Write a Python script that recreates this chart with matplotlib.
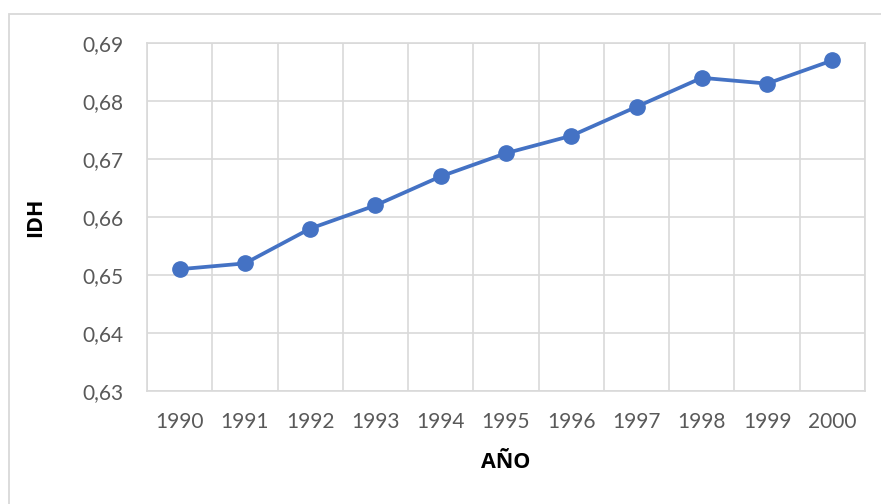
import matplotlib
matplotlib.use("Agg")
import matplotlib.pyplot as plt
from matplotlib.patches import Rectangle
from matplotlib.ticker import FixedLocator

years = ["1990", "1991", "1992", "1993", "1994", "1995", "1996", "1997", "1998", "1999", "2000"]
idh = [0.651, 0.652, 0.658, 0.662, 0.667, 0.671, 0.674, 0.679, 0.684, 0.683, 0.687]
yticks = [0.63, 0.64, 0.65, 0.66, 0.67, 0.68, 0.69]
ytick_labels = ["0,63", "0,64", "0,65", "0,66", "0,67", "0,68", "0,69"]

plt.rcParams['font.family'] = ['Lato', 'DejaVu Sans']
W, H = 881, 504
fig = plt.figure(figsize=(W / 100, H / 100), dpi=100)
fig.patches.append(Rectangle((9 / W, -0.1), 1.2, 1 - 14 / H + 0.1, transform=fig.transFigure,
                             fill=False, edgecolor="#D9D9D9", linewidth=1.3))

ax = fig.add_axes([147 / W, 1 - 391 / H, (865 - 147) / W, (391 - 43) / H])
x = list(range(len(years)))
ax.plot(x, idh, color="#4472C4", linewidth=2.7, marker="o", markersize=11, zorder=3)

ax.set_xlim(-0.5, len(years) - 0.5)
ax.set_ylim(0.63, 0.69)
ax.set_xticks(x)
ax.set_xticklabels(years)
ax.set_yticks(yticks)
ax.set_yticklabels(ytick_labels)
ax.xaxis.set_minor_locator(FixedLocator([i - 0.5 for i in range(len(years) + 1)]))
ax.grid(True, axis="y", which="major", color="#D9D9D9", linewidth=1.2)
ax.grid(True, axis="x", which="minor", color="#D9D9D9", linewidth=1.2)
ax.grid(False, axis="x", which="major")
ax.tick_params(which="both", length=0, colors="#595959", labelsize=15)
ax.tick_params(axis="x", pad=15)
ax.tick_params(axis="y", pad=17)
for s in ax.spines.values():
    s.set_color("#D9D9D9")
    s.set_linewidth(1.2)
ax.set_axisbelow(True)

fig.text(36 / W, 1 - 217 / H, "IDH", rotation=90, ha="center", va="center",
         fontsize=15.5, fontweight="bold", color="black", family=["Open Sans", "DejaVu Sans"])
fig.text(506 / W, 1 - 462 / H, "AÑO", ha="center", va="center",
         fontsize=15.5, fontweight="bold", color="black", family=["Open Sans", "DejaVu Sans"])

fig.savefig("out.png", dpi=100)
